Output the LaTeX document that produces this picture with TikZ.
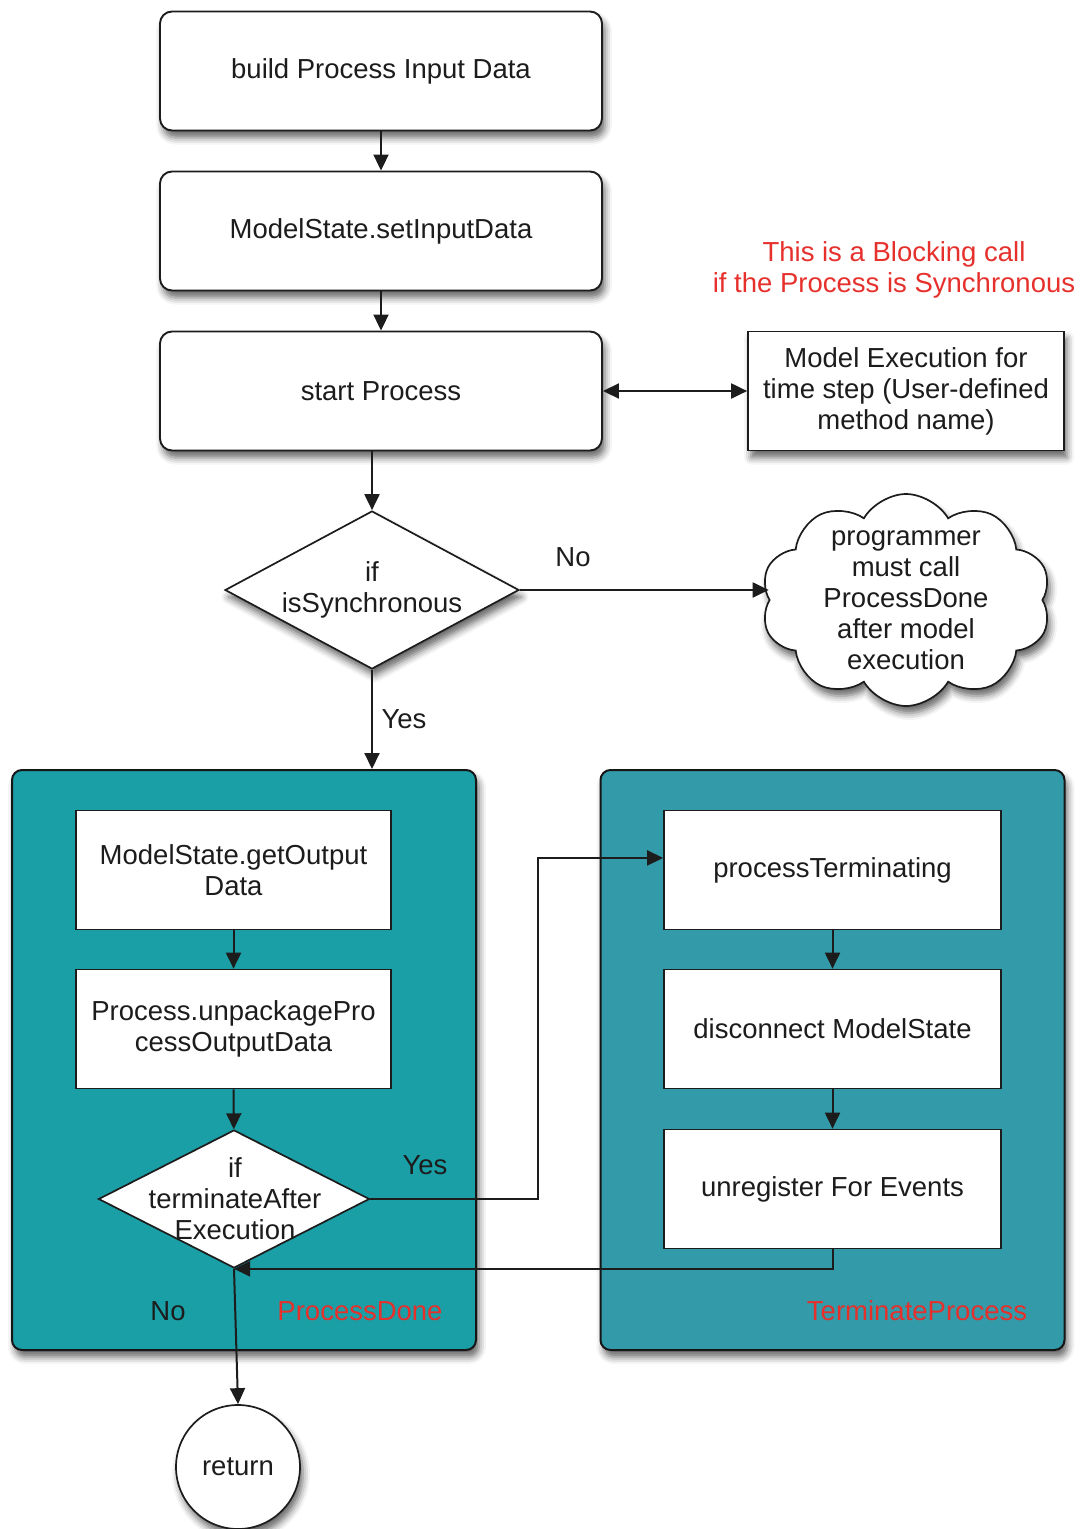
\documentclass[tikz,border=0pt]{standalone}
\usepackage{fontspec}
\setmainfont{Liberation Sans}
\usetikzlibrary{arrows.meta,shapes.geometric,shapes.symbols,shadows.blur,calc}

\definecolor{ink}{RGB}{28,28,28}
\definecolor{tealA}{RGB}{26,159,166}
\definecolor{tealB}{RGB}{50,154,168}
\definecolor{notered}{RGB}{230,48,44}

\begin{document}
\begin{tikzpicture}[x=1pt,y=-1pt,
  font=\fontsize{27.5}{31}\selectfont, text=ink,
  softshadow/.style={blur shadow={shadow xshift=3pt,shadow yshift=-7pt,
      shadow blur radius=7pt,shadow opacity=60}},
  roundbox/.style={draw=ink,line width=1.9pt,fill=white,rounded corners=12pt,
      minimum width=442pt,minimum height=119pt,inner sep=0pt,align=center,softshadow},
  plainbox/.style={draw=ink,line width=1.7pt,fill=white,
      minimum width=315pt,minimum height=119pt,inner sep=0pt,align=center},
  container/.style={draw=ink!80!black,line width=2pt,rounded corners=10pt,
      minimum width=464pt,minimum height=580pt,inner sep=0pt,softshadow},
  decision/.style={diamond,draw=ink,line width=1.7pt,fill=white,inner sep=0pt},
  tip/.tip={Triangle[length=16pt,width=15pt]},
  arr/.style={draw=ink,line width=2pt,-tip},
  dblarr/.style={draw=ink,line width=2pt,tip-tip},
  note/.style={text=notered}]

\useasboundingbox (0,0) rectangle (1084,1529);

% main sequence
\node[roundbox] (b1) at (381,71) {build Process Input Data};
\node[roundbox] (b2) at (381,231) {ModelState.setInputData};
\node[roundbox] (b3) at (381,391) {start Process};

% blocking remark and user model step
\node[note,align=center] (rem) at (894,270) {This is a Blocking call\\if the Process is Synchronous};
\node[draw=ink,line width=1.7pt,fill=white,minimum width=316pt,minimum height=119pt,
      inner sep=0pt,align=center,softshadow] (mx) at (906,391)
      {Model Execution for\\time step (User-defined\\method name)};

% synchronous test
\node[decision,minimum width=294pt,minimum height=158pt,softshadow] (d1) at (372,590) {};
\node[align=center] (d1t) at (d1) {if\\isSynchronous};

% asynchronous hint
\node[cloud,cloud puffs=10,cloud puff arc=120,aspect=1.35,draw=ink,line width=1.7pt,
      fill=white,minimum width=290pt,minimum height=212pt,inner sep=0pt,softshadow]
      (cl) at (906,600) {};
\node[align=center] (clt) at (906,600)
      {programmer\\must call\\ProcessDone\\after model\\execution};

% group containers
\node[container,fill=tealA] (pdone) at (244,1060) {};
\node[container,fill=tealB] (tproc) at (832.5,1060) {};

% ProcessDone contents
\node[plainbox] (g1) at (233.5,870) {ModelState.getOutput\\Data};
\node[plainbox] (g2) at (233.5,1029) {Process.unpackagePro\\cessOutputData};
\node[decision,minimum width=271pt,minimum height=138pt] (d2) at (234,1199) {};
\node[align=center] (d2t) at (235,1199) {if\\terminateAfter\\Execution};

% TerminateProcess contents
\node[plainbox,minimum width=337pt] (t1) at (832.5,870) {processTerminating};
\node[plainbox,minimum width=337pt] (t2) at (832.5,1029) {disconnect ModelState};
\node[plainbox,minimum width=337pt] (t3) at (832.5,1189) {unregister For Events};

% group labels
\node[note] (pdl) at (360,1311) {ProcessDone};
\node[note] (tpl) at (917,1311) {TerminateProcess};

% end
\node[circle,draw=ink,line width=1.7pt,fill=white,minimum size=124pt,inner sep=0pt,
      softshadow] (ret) at (238,1467) {return};

% connectors
\draw[arr] (b1) -- (b2);
\draw[arr] (b2) -- (b3);
\draw[dblarr] (b3.east) -- (mx.west);
\draw[arr] (d1.north |- b3.south) -- (d1.north);
\draw[arr] (d1.east) -- (d1.east -| cl.west);
\node (lno1) at (573,557) {No};
\draw[arr] (d1.south) -- (d1.south |- pdone.north);
\node (lyes1) at (404,719) {Yes};

\draw[arr] (g1) -- (g2);
\draw[arr] (g2) -- (d2);

\coordinate (jog) at (538,1199);
\coordinate (tin) at ($(t1.north west)!0.4!(t1.south west)$);
\draw[arr] (d2.east) -- (jog) |- (tin);
\node (lyes2) at (425,1165) {Yes};

\draw[arr] (t1) -- (t2);
\draw[arr] (t2) -- (t3);
\draw[arr] (t3.south) |- (d2.south);

\draw[arr] (d2.south) -- (ret.north);
\node (lno2) at (168,1311) {No};

\end{tikzpicture}
\end{document}
